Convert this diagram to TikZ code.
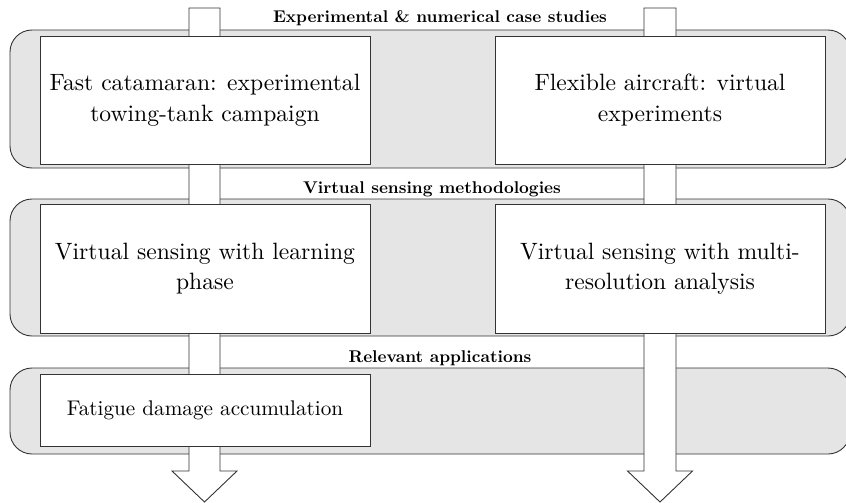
\documentclass[tikz,border=0pt]{standalone}
\usepackage{graphicx}
\usetikzlibrary{calc}
\tikzset{
  band/.style={draw=black!80, line width=0.9pt, fill=black!10, rounded corners=22pt, minimum width=840pt, inner sep=0pt},
  box/.style={draw=black!80, line width=0.9pt, fill=white, minimum width=330pt, inner sep=0pt},
  blockarrow/.style={draw=black!80, line width=0.9pt, fill=white, line join=miter},
  tag/.style={anchor=base, inner sep=0pt},
}
\newcommand{\boxtext}[2][2.36]{\scalebox{#1}{\renewcommand\arraystretch{1.06}\begin{tabular}{@{}c@{}}#2\end{tabular}}}
\newcommand{\tagtext}[1]{\scalebox{1.70}{\bfseries #1}}
\begin{document}
\begin{tikzpicture}[x=1pt,y=-1pt]
\useasboundingbox (0,0) rectangle (846,503);
\clip (0,0) rectangle (846,503);
% bands
\node[band, minimum height=138pt] (band1) at (430,99) {};
\node[band, minimum height=137pt] (band2) at (430,267.5) {};
\node[band, minimum height=86pt] (band3) at (430,411) {};
% block arrows
\coordinate (la-top) at (204.5,8);
\coordinate (la-tip) at (204.5,502);
\coordinate (ra-top) at (660,8);
\coordinate (ra-tip) at (660,502);
\draw[blockarrow] ($(la-top)+(-15.5,0)$) -- ($(la-top)+(15.5,0)$) -- ($(la-tip)+(15.5,-31)$) -- ($(la-tip)+(32.5,-31)$) -- (la-tip) -- ($(la-tip)+(-32.5,-31)$) -- ($(la-tip)+(-15.5,-31)$) -- cycle;
\draw[blockarrow] ($(ra-top)+(-16,0)$) -- ($(ra-top)+(16,0)$) -- ($(ra-tip)+(16,-31)$) -- ($(ra-tip)+(32.5,-31)$) -- (ra-tip) -- ($(ra-tip)+(-32.5,-31)$) -- ($(ra-tip)+(-16,-31)$) -- cycle;
% boxes
\node[box, minimum height=128pt] (cat) at (205,100) {\boxtext{Fast catamaran: experimental\\towing-tank campaign}};
\node[box, minimum height=128pt] (air) at (660,100) {\boxtext{Flexible aircraft: virtual\\experiments}};
\node[box, minimum height=129pt] (learn) at (205,268.5) {\boxtext{Virtual sensing with learning\\phase}};
\node[box, minimum height=129pt] (multi) at (660,268.5) {\boxtext{Virtual sensing with multi-\\resolution analysis}};
\node[box, minimum height=72pt] (fatigue) at (205,410) {\boxtext[2.12]{Fatigue damage accumulation}};
% band labels
\node[tag] (tag1) at (440,23) {\tagtext{Experimental \& numerical case studies}};
\node[tag] (tag2) at (432,193) {\tagtext{Virtual sensing methodologies}};
\node[tag] (tag3) at (440,362) {\tagtext{Relevant applications}};
\end{tikzpicture}
\end{document}
